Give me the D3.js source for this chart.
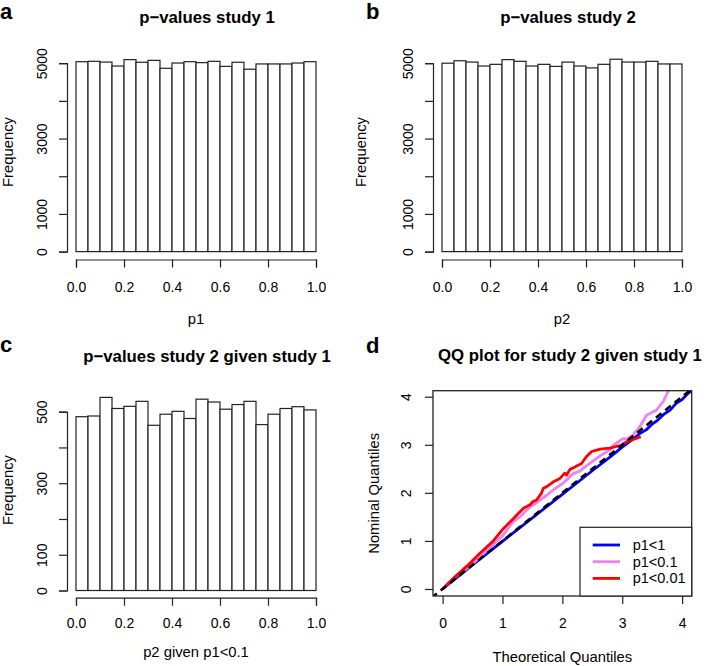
<!DOCTYPE html>
<html><head><meta charset="utf-8">
<script src="https://cdn.jsdelivr.net/npm/d3@7"></script>
<style>body{margin:0;background:#fff}svg{display:block}text{font-family:"Liberation Sans",Arial,Helvetica,sans-serif;fill:#000}</style>
</head><body><svg id="c" width="708" height="666"></svg>
<script>
// ---- data ----
const breaks = [0,0.05,0.1,0.15,0.2,0.25,0.3,0.35,0.4,0.45,0.5,0.55,0.6,0.65,0.7,0.75,0.8,0.85,0.9,0.95,1.0];
const countsA = [5040,5050,5030,4925,5095,5025,5075,4865,5005,5040,5015,5050,4915,5025,4840,4980,4980,4980,5005,5040];
const countsB = [5000,5065,5030,4925,4970,5095,5050,4925,4970,4915,5030,4925,4875,4970,5105,5030,5030,5050,4980,4980];
const countsC = [486,488,540,509,515,529,462,493,501,481,535,527,507,520,529,464,493,509,514,505];
const xTicks = [0,0.2,0.4,0.6,0.8,1.0];
const xTickLabels = ["0.0","0.2","0.4","0.6","0.8","1.0"];
const yTicksAB = [0,1000,2000,3000,4000,5000];
const yTickLabelsAB = ["0","1000","","3000","","5000"];
const yTicksC = [0,100,200,300,400,500];
const yTickLabelsC = ["0","100","","300","","500"];
const qqTicks = [0,1,2,3,4];
const titles = ["p\u2212values study 1","p\u2212values study 2","p\u2212values study 2 given study 1","QQ plot for study 2 given study 1"];
const panelLetters = ["a","b","c","d"];
const xLabels = ["p1","p2","p2 given p1<0.1","Theoretical Quantiles"];
const yLabels = ["Frequency","Frequency","Frequency","Nominal Quantiles"];
const legendLabels = ["p1<1","p1<0.1","p1<0.01"];
const legendColors = ["blue","violet","red"];
// QQ curves: expected (theoretical) vs observed (nominal) -log10 quantiles
const qqAllX = [0,0.5,1.0,1.5,2.0,2.5,2.8,3.0,3.2,3.3,3.4,3.5,3.6,3.7,3.8,3.9,4.0,4.1,4.2,4.5];
const qqAllY = [0,0.5,0.99,1.48,1.97,2.46,2.75,2.95,3.14,3.24,3.31,3.43,3.52,3.64,3.72,3.86,3.94,4.07,4.16,4.45];
const qq01X = [0,0.18,0.46,0.73,1.01,1.18,1.29,1.46,1.57,1.74,1.85,2.01,2.07,2.18,2.29,2.40,2.51,2.63,2.79,2.85,3.02,3.08,3.18,3.29,3.41,3.57,3.68,3.79,3.9];
const qq01Y = [0,0.22,0.48,0.79,1.12,1.40,1.50,1.71,1.80,1.95,2.06,2.20,2.27,2.40,2.45,2.56,2.66,2.77,2.89,2.99,3.13,3.12,3.20,3.37,3.62,3.72,3.89,4.17,4.4];
const qq001X = [0,0.18,0.40,0.62,0.84,1.01,1.18,1.35,1.46,1.51,1.57,1.65,1.68,1.74,1.85,1.96,2.04,2.07,2.13,2.21,2.24,2.32,2.40,2.49,2.63,2.79,2.99,3.07,3.31];
const qq001Y = [0,0.22,0.47,0.74,0.99,1.25,1.46,1.68,1.75,1.82,1.85,1.99,2.09,2.13,2.23,2.30,2.41,2.37,2.49,2.54,2.56,2.61,2.75,2.86,2.91,2.93,2.99,3.06,3.17];

const svg = d3.select("#c");
svg.append("rect").attr("width",708).attr("height",666).attr("fill","#fff");
const STROKE = "#222";
const TITLE_FS = 16.8, LAB_FS = 14.8, TICK_FS = 14;

function yAxisR(g, scale, ticks, labels, x, lblOff){
  const ax = g.append("g").attr("transform",`translate(${x},0)`)
    .call(d3.axisLeft(scale).tickValues(ticks).tickSizeOuter(0).tickSize(8).tickFormat((d,i)=>labels[i]));
  ax.select(".domain").attr("stroke",STROKE).attr("stroke-width",1.2);
  ax.selectAll(".tick line").attr("stroke",STROKE).attr("stroke-width",1.2);
  ax.selectAll(".tick text").attr("x",null).attr("dy",null).attr("y",lblOff)
    .attr("transform","rotate(-90)").attr("text-anchor","middle").attr("font-size",TICK_FS).attr("fill","#000");
  ax.attr("font-family",null);
}
function xAxisR(g, scale, ticks, labels, y, lblOff){
  const ax = g.append("g").attr("transform",`translate(0,${y})`)
    .call(d3.axisBottom(scale).tickValues(ticks).tickSizeOuter(0).tickSize(8).tickFormat((d,i)=>labels[i]));
  ax.select(".domain").attr("stroke",STROKE).attr("stroke-width",1.2);
  ax.selectAll(".tick line").attr("stroke",STROKE).attr("stroke-width",1.2);
  ax.selectAll(".tick text").attr("dy",null).attr("y",lblOff).attr("font-size",TICK_FS).attr("fill","#000");
  ax.attr("font-family",null);
}

function hist(p){
  const g = svg.append("g");
  const x = d3.scaleLinear().domain([0,1]).range([p.x0,p.x1]);
  const y = d3.scaleLinear().domain([0,p.ymax]).range([p.yb,p.yt]);
  g.selectAll("rect.bar").data(p.counts).enter().append("rect").attr("class","bar")
    .attr("x",(d,i)=>x(breaks[i])).attr("width",(d,i)=>x(breaks[i+1])-x(breaks[i]))
    .attr("y",d=>y(d)).attr("height",d=>y(0)-y(d))
    .attr("fill","#fff").attr("stroke",STROKE).attr("stroke-width",1.2);
  yAxisR(g,y,p.yticks,p.ylabels,p.ax,-20);
  xAxisR(g,x,xTicks,xTickLabels,p.axy,p.xlblOff);
  g.append("text").attr("x",p.titleX).attr("y",p.titleY).attr("text-anchor","middle")
    .attr("font-size",TITLE_FS).attr("font-weight","bold").text(p.title);
  g.append("text").attr("x",p.letterX).attr("y",p.letterY).attr("font-size",22).attr("font-weight","bold").text(p.letter);
  g.append("text").attr("x",(p.x0+p.x1)/2).attr("y",p.xlabY).attr("text-anchor","middle").attr("font-size",LAB_FS).text(p.xlab);
  g.append("text").attr("transform",`translate(${p.ylabX},${p.ylabY}) rotate(-90)`).attr("text-anchor","middle").attr("font-size",LAB_FS).text(p.ylab);
}

hist({counts:countsA,ymax:5000,yticks:yTicksAB,ylabels:yTickLabelsAB,x0:76,x1:316,yb:251.6,yt:63.2,ax:67,axy:259.5,xlblOff:32.5,
  title:titles[0],titleX:207,titleY:23,letter:panelLetters[0],letterX:0,letterY:19,xlab:xLabels[0],xlabY:324,ylab:yLabels[0],ylabX:13,ylabY:152});
hist({counts:countsB,ymax:5000,yticks:yTicksAB,ylabels:yTickLabelsAB,x0:442,x1:682,yb:251.6,yt:63.2,ax:433,axy:259.5,xlblOff:32.5,
  title:titles[1],titleX:568,titleY:23,letter:panelLetters[1],letterX:366,letterY:19,xlab:xLabels[1],xlabY:324,ylab:yLabels[1],ylabX:366,ylabY:152});
hist({counts:countsC,ymax:500,yticks:yTicksC,ylabels:yTickLabelsC,x0:76,x1:316,yb:590.5,yt:411.7,ax:67,axy:597.7,xlblOff:30.5,
  title:titles[2],titleX:207,titleY:362,letter:panelLetters[2],letterX:0,letterY:352,xlab:xLabels[2],xlabY:657,ylab:yLabels[2],ylabX:13,ylabY:490});

// ---- panel d ----
(function(){
  const g = svg.append("g");
  const L=433,R=691.7,T=390.7,B=596;
  const x = d3.scaleLinear().domain([-0.16,4.16]).range([L,R]);
  const y = d3.scaleLinear().domain([-0.146,4.125]).range([B,T]);
  svg.append("defs").append("clipPath").attr("id","clipd").append("rect").attr("x",L).attr("y",T).attr("width",R-L).attr("height",B-T);
  const plot = g.append("g").attr("clip-path","url(#clipd)");
  const line = d3.line().x(d=>x(d[0])).y(d=>y(d[1]));
  const series = [[qqAllX,qqAllY],[qq01X,qq01Y],[qq001X,qq001Y]];
  series.forEach((s,k)=>{
    plot.append("path").datum(s[0].map((v,i)=>[v,s[1][i]])).attr("d",line)
      .attr("fill","none").attr("stroke",legendColors[k]).attr("stroke-width",2.8).attr("stroke-linejoin","round");
  });
  plot.append("path").datum([[-0.5,-0.5],[4.5,4.5]]).attr("d",line)
    .attr("fill","none").attr("stroke","#000").attr("stroke-width",2.6).attr("stroke-dasharray","7,5");
  g.append("rect").attr("x",L).attr("y",T).attr("width",R-L).attr("height",B-T).attr("fill","none").attr("stroke",STROKE).attr("stroke-width",1.3);
  // axes
  const xs = d3.scaleLinear().domain([0,4]).range([x(0),x(4)]);
  const ys = d3.scaleLinear().domain([0,4]).range([y(0),y(4)]);
  const ax = g.append("g").attr("transform",`translate(0,${B})`)
    .call(d3.axisBottom(xs).tickValues(qqTicks).tickSize(8).tickSizeOuter(0).tickFormat(d3.format("d")));
  ax.select(".domain").remove();
  ax.selectAll(".tick line").attr("stroke",STROKE).attr("stroke-width",1.2);
  ax.selectAll(".tick text").attr("dy",null).attr("y",32).attr("font-size",TICK_FS).attr("fill","#000");
  ax.attr("font-family",null);
  const ay = g.append("g").attr("transform",`translate(${L},0)`)
    .call(d3.axisLeft(ys).tickValues(qqTicks).tickSize(8).tickSizeOuter(0).tickFormat(d3.format("d")));
  ay.select(".domain").remove();
  ay.selectAll(".tick line").attr("stroke",STROKE).attr("stroke-width",1.2);
  ay.selectAll(".tick text").attr("x",null).attr("dy",null).attr("y",-22)
    .attr("transform","rotate(-90)").attr("text-anchor","middle").attr("font-size",TICK_FS).attr("fill","#000");
  ay.attr("font-family",null);
  g.append("text").attr("x",570).attr("y",361).attr("text-anchor","middle").attr("font-size",TITLE_FS).attr("font-weight","bold").text(titles[3]);
  g.append("text").attr("x",366).attr("y",353).attr("font-size",22).attr("font-weight","bold").text(panelLetters[3]);
  g.append("text").attr("x",(L+R)/2).attr("y",662).attr("text-anchor","middle").attr("font-size",LAB_FS).text(xLabels[3]);
  g.append("text").attr("transform",`translate(379,${(T+B)/2}) rotate(-90)`).attr("text-anchor","middle").attr("font-size",LAB_FS).text(yLabels[3]);
  // legend
  const lg = g.append("g");
  lg.append("rect").attr("x",580).attr("y",527.3).attr("width",R-580).attr("height",B-527.3).attr("fill","#fff").attr("stroke",STROKE).attr("stroke-width",1.2);
  legendLabels.forEach((t,i)=>{
    const yy = 545 + i*16.7;
    lg.append("line").attr("x1",592.7).attr("x2",620).attr("y1",yy).attr("y2",yy).attr("stroke",legendColors[i]).attr("stroke-width",2.8);
    lg.append("text").attr("x",632.7).attr("y",yy+5).attr("font-size",14.5).text(t);
  });
})();
</script></body></html>
